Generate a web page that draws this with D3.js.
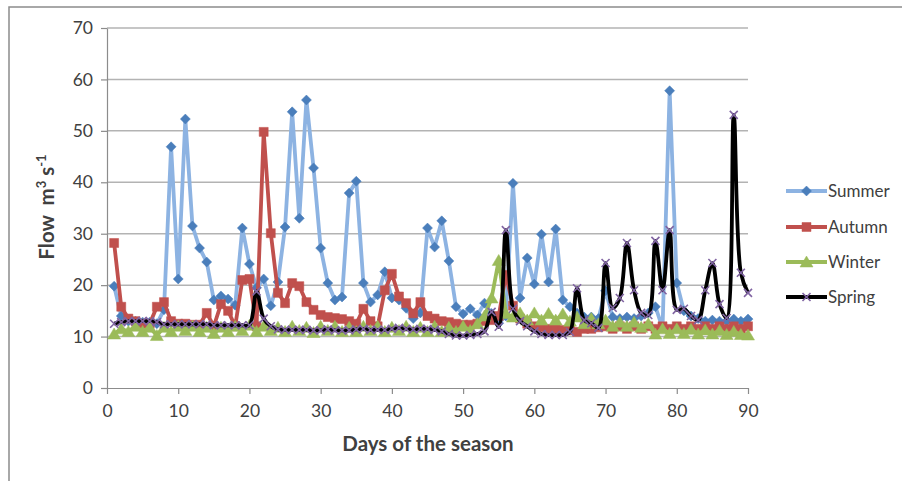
<!DOCTYPE html>
<html>
<head>
<meta charset="utf-8">
<script src="https://cdn.jsdelivr.net/npm/d3@7"></script>
<style>
  body { margin: 0; background: #fff; }
  text { font-family: Lato, "Open Sans", sans-serif; fill: #404040; }
</style>
</head>
<body>
<div id="container"></div>
<script>
let w = 902;
let h = 481;

// days 1..90
let days = d3.range(1, 91);

let summer = [19.8, 14, 13, 13, 12.8, 12.8, 12.5, 15.2, 46.9, 21.2,
  52.3, 31.5, 27.2, 24.5, 17.1, 17.9, 17.3, 16.1, 31.1, 24.1,
  19.5, 21.2, 16, 20.6, 31.3, 53.7, 33, 56, 42.8, 27.2,
  20.4, 17.1, 17.7, 37.9, 40.2, 20.4, 16.7, 18.1, 22.6, 17.5,
  17.1, 15.5, 13.5, 14.6, 31.1, 27.4, 32.5, 24.7, 15.8, 14.4,
  15.4, 14.2, 16.5, 14.5, 12.6, 14, 39.8, 17.5, 25.3, 20.2,
  29.9, 20.6, 30.9, 17.1, 15.8, 14.6, 13.8, 13.8, 13.5, 18.9,
  13.8, 13.5, 13.8, 13.5, 14, 14.6, 15.8, 11.7, 57.8, 20.4,
  15, 14, 13.5, 13, 13.2, 13, 13, 13.4, 13, 13.4];

let autumn = [28.2, 15.8, 13.5, 13, 12.5, 12.5, 15.8, 16.7, 13, 12.5,
  12.5, 12.3, 12.3, 14.6, 12, 16.3, 15, 12, 21, 21.2,
  12, 49.8, 30.1, 18.5, 16.5, 20.4, 19.8, 16.7, 15.2, 14.2,
  13.8, 13.6, 13.4, 13, 12.5, 15.4, 13, 12, 19, 22.2,
  17.8, 16.5, 14.5, 16.7, 14, 13.5, 13, 12.8, 12.5, 12.3,
  12.3, 12.5, 13, 13.2, 14, 22, 16, 13.5, 12.5, 12,
  11.8, 11.5, 11.5, 11.3, 11.2, 10.9, 11.5, 11.5, 11.8, 12,
  11.5, 12, 11.5, 12, 11.5, 12, 11.5, 12, 11.5, 12,
  11.5, 12, 11.5, 12, 11.5, 12, 11.5, 12, 11.5, 12];

let winter = [10.5, 11.5, 11, 12, 11, 11.8, 10.2, 11.8, 11, 12,
  11.2, 12, 11, 11.8, 10.6, 11.8, 11, 12, 11.2, 12.2,
  11, 12, 11.2, 11.8, 11, 12, 11.2, 11.8, 10.8, 12,
  11.2, 12, 11, 11.8, 11, 12, 11.2, 12, 11, 11.8,
  11.2, 12, 11, 11.8, 11, 12, 11, 11.8, 11, 12,
  11.2, 12.5, 14, 17.5, 24.8, 14.5, 13.8, 14.6, 13.2, 14.6,
  13.2, 14.5, 13.2, 14.4, 13, 13.8, 12.5, 13.5, 12.5, 13.2,
  12, 12.8, 12, 12.8, 11.8, 12.5, 10.5, 11.5, 10.6, 11.5,
  10.6, 11.4, 10.5, 11.3, 10.5, 11.2, 10.4, 11, 10.4, 10.3];

let spring = [12.5, 12.8, 13, 13, 13, 13, 12.8, 12.4, 12.4, 12.4,
  12.4, 12.4, 12.4, 12.4, 12.2, 12.2, 12.2, 12.2, 12.2, 12.2,
  18.8, 13.5, 12, 11.4, 11.3, 11.3, 11.3, 11.3, 11.2, 11.2,
  11.4, 11.2, 11.2, 11.2, 11.4, 11.5, 11.3, 11.3, 11.3, 11.5,
  11.7, 11.5, 11.4, 11.5, 11.5, 11.3, 11, 10.5, 10.2, 10.2,
  10.3, 10.5, 11, 14.8, 11.9, 30.7, 15.4, 13, 12, 11,
  10.5, 10.3, 10.3, 10.3, 10.9, 19.4, 13.2, 12.6, 11.7, 24.3,
  15.6, 17.5, 28.2, 19, 14.6, 14.2, 28.6, 19, 30.7, 15.2,
  15.4, 14, 13.2, 19, 24.3, 16.3, 13.6, 53.1, 22.4, 18.5];

let xTicks = [0, 10, 20, 30, 40, 50, 60, 70, 80, 90];
let yTicks = [0, 10, 20, 30, 40, 50, 60, 70];
let seriesNames = ["Summer", "Autumn", "Winter", "Spring"];

let viz = d3.select("#container")
  .append("svg")
    .attr("width", w)
    .attr("height", h)
    .style("display", "block")
    .style("background-color", "#ffffff");

// outer chart border (only left/top visible in the picture)
viz.append("rect")
  .attr("x", 9).attr("y", 7)
  .attr("width", w + 20).attr("height", h + 20)
  .attr("fill", "none")
  .attr("stroke", "#8c8c8c")
  .attr("stroke-width", 1.5);

let xScale = d3.scaleLinear().domain([0, 90]).range([107, 748]);
let yScale = d3.scaleLinear().domain([0, 70]).range([388, 28]);

// gridlines
viz.append("g").selectAll("line").data(yTicks.filter(d => d > 0)).enter()
  .append("line")
    .attr("x1", xScale(0)).attr("x2", xScale(90))
    .attr("y1", d => yScale(d)).attr("y2", d => yScale(d))
    .attr("stroke", "#b3b3b3").attr("stroke-width", 1.5);

// axes
let xAxis = d3.axisBottom(xScale).tickValues(xTicks).tickSize(6).tickPadding(8).tickSizeOuter(0);
let xAxisGroup = viz.append("g").attr("class", "xaxis")
  .attr("transform", "translate(0," + yScale(0) + ")")
  .call(xAxis);

let yAxis = d3.axisLeft(yScale).tickValues(yTicks).tickSize(6).tickPadding(8).tickSizeOuter(0);
let yAxisGroup = viz.append("g").attr("class", "yaxis")
  .attr("transform", "translate(" + xScale(0) + ",0)")
  .call(yAxis);

viz.selectAll(".xaxis path, .yaxis path, .xaxis line, .yaxis line")
  .attr("stroke", "#8c8c8c").attr("stroke-width", 1.2);
viz.selectAll(".xaxis text, .yaxis text")
  .style("font-size", "17.5px").attr("fill", "#404040");
xAxisGroup.selectAll("text").attr("dy", "0.85em");

// axis titles
viz.append("text")
  .attr("x", 428).attr("y", 451)
  .attr("text-anchor", "middle")
  .style("font-size", "20.5px").style("font-weight", "bold")
  .text("Days of the season");

let ytitle = viz.append("text")
  .attr("transform", "translate(54,207) rotate(-90)")
  .attr("text-anchor", "middle")
  .style("font-size", "20.5px").style("font-weight", "bold");
ytitle.append("tspan").text("Flow\u00a0\u00a0m");
ytitle.append("tspan").attr("baseline-shift", "super").style("font-size", "13px").text("3");
ytitle.append("tspan").text("\u00a0s");
ytitle.append("tspan").attr("baseline-shift", "super").style("font-size", "13px").text("-1");

// series config
let series = [
  {name: "Summer", values: summer, line: "#8db3e2", mark: "#4a7ebb", symbol: "diamond", curve: d3.curveLinear},
  {name: "Autumn", values: autumn, line: "#c0504d", mark: "#c0504d", symbol: "square", curve: d3.curveLinear},
  {name: "Winter", values: winter, line: "#9bbb59", mark: "#9bbb59", symbol: "triangle", curve: d3.curveLinear},
  {name: "Spring", values: spring, line: "#000000", mark: "#8064a2", symbol: "cross", curve: d3.curveCatmullRom}
];

function markerPath(sym) {
  if (sym == "diamond") return "M0,-5L5,0L0,5L-5,0Z";
  if (sym == "square") return "M-4.5,-4.5L4.5,-4.5L4.5,4.5L-4.5,4.5Z";
  if (sym == "triangle") return "M0,-6L6.5,5L-6.5,5Z";
  return "M-4,-4L4,4M-4,4L4,-4";
}

let vizgroup = viz.append("g").attr("class", "vizgroup");

series.forEach(function(s) {
  let pts = days.map(function(d, i) { return {x: d, y: s.values[i]}; });
  let line = d3.line()
    .x(d => xScale(d.x))
    .y(d => yScale(d.y))
    .curve(s.curve);
  let g = vizgroup.append("g").attr("class", "datagroup");
  g.append("path")
    .attr("d", line(pts))
    .attr("fill", "none")
    .attr("stroke", s.line)
    .attr("stroke-width", 3.8)
    .attr("stroke-linejoin", "round");
  g.selectAll(".mk").data(pts).enter()
    .append("path")
      .attr("class", "mk")
      .attr("transform", d => "translate(" + xScale(d.x) + "," + yScale(d.y) + ")")
      .attr("d", markerPath(s.symbol))
      .attr("fill", s.symbol == "cross" ? "none" : s.mark)
      .attr("stroke", s.mark)
      .attr("stroke-width", s.symbol == "cross" ? 1.6 : 0.5);
});

// legend
let legend = viz.append("g").attr("class", "legend");
let legendY = [191, 227, 262, 297];
series.forEach(function(s, i) {
  let lg = legend.append("g").attr("transform", "translate(786," + legendY[i] + ")");
  lg.append("line")
    .attr("x1", 0).attr("x2", 41).attr("y1", 0).attr("y2", 0)
    .attr("stroke", s.line).attr("stroke-width", 3.8);
  lg.append("path")
    .attr("transform", "translate(20.5,0)")
    .attr("d", markerPath(s.symbol))
    .attr("fill", s.symbol == "cross" ? "none" : s.mark)
    .attr("stroke", s.mark)
    .attr("stroke-width", s.symbol == "cross" ? 1.6 : 0.5);
  lg.append("text")
    .attr("x", 42).attr("y", 0).attr("dy", "0.35em")
    .style("font-size", "17px")
    .text(seriesNames[i]);
});
</script>
</body>
</html>
